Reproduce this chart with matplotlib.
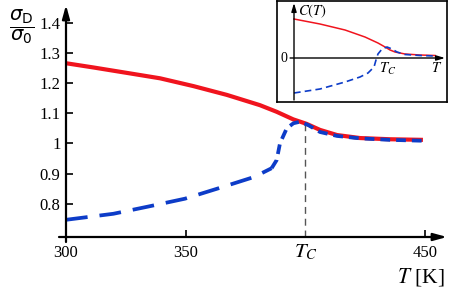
import matplotlib
matplotlib.use("Agg")
import matplotlib.pyplot as plt
import numpy as np

plt.rcParams['font.family'] = ['Liberation Serif', 'DejaVu Serif']
plt.rcParams['mathtext.fontset'] = 'stix'

# main panel: sigma_D / sigma_0 against temperature
T_red = [300, 311.4, 325.4, 339.3, 353.3, 367.2, 381.0, 388.0, 394.9, 400.5,
         406.1, 413.2, 422.8, 435.3, 449.1]
s_red = [1.266, 1.252, 1.234, 1.216, 1.190, 1.161, 1.127, 1.105, 1.080, 1.065,
         1.045, 1.028, 1.018, 1.014, 1.012]

T_blue = [300, 319.8, 334.4, 349.7, 363.9, 378.6, 385.9, 388.0, 389.4, 392.2,
          395.0, 397.7, 401.2, 406.1, 413.2, 422.8, 435.3, 449.1]
s_blue = [0.747, 0.767, 0.791, 0.817, 0.852, 0.889, 0.918, 0.945, 1.001, 1.050,
          1.067, 1.072, 1.061, 1.038, 1.025, 1.017, 1.012, 1.009]

T_c = 400
s_at_Tc = 1.066
xticks = [300, 350, 450]
yticks = [0.8, 0.9, 1.0, 1.1, 1.2, 1.3, 1.4]
ytick_labels = ['0.8', '0.9', '1', '1.1', '1.2', '1.3', '1.4']

# inset: C(T), arbitrary units
u_red = [0, 0.172, 0.338, 0.470, 0.556, 0.603, 0.636, 0.669, 0.735, 0.834, 0.934]
c_red = [0.975, 0.85, 0.70, 0.525, 0.375, 0.275, 0.20, 0.15, 0.10, 0.075, 0.0625]
u_blue = [0, 0.172, 0.338, 0.437, 0.490, 0.530, 0.543, 0.556, 0.583, 0.616, 0.649,
          0.682, 0.735, 0.834, 0.934]
c_blue = [-0.875, -0.775, -0.60, -0.475, -0.375, -0.225, -0.05, 0.10, 0.225, 0.275,
          0.225, 0.15, 0.0875, 0.0625, 0.05]

RED = '#f0141e'
BLUE = '#0d3cc8'

fig = plt.figure(figsize=(4.5, 2.89), dpi=100)
ax = fig.add_axes([66/450, 52/289, 381/450, 232/289])
ax.set_xlim(300, 459.15)
ax.set_ylim(0.690, 1.459)
for s in ax.spines.values():
    s.set_visible(False)

# axes drawn as arrows
ax.annotate('', xy=(1, 0), xytext=(-7/381, 0), xycoords='axes fraction',
            arrowprops=dict(arrowstyle='-|>,head_length=0.8,head_width=0.22',
                            lw=1.6, color='black', shrinkA=0, shrinkB=0))
ax.annotate('', xy=(0, 1), xytext=(0, -5/232), xycoords='axes fraction',
            arrowprops=dict(arrowstyle='-|>,head_length=0.8,head_width=0.22',
                            lw=1.6, color='black', shrinkA=0, shrinkB=0))

ax.plot([T_c, T_c], [0.690, s_at_Tc], color='#555555', lw=1.0, dashes=(5, 3.5))

ax.plot(T_red, s_red, color=RED, lw=3.0, solid_capstyle='butt', solid_joinstyle='round')
T_blue = np.array(T_blue)
s_blue = np.array(s_blue)
lo = T_blue <= 386
hi = T_blue >= 385.9
ax.plot(T_blue[lo], s_blue[lo], color=BLUE, lw=2.7, dashes=(5.8, 3.2))
ax.plot(T_blue[hi], s_blue[hi], color=BLUE, lw=2.7, dashes=(2.6, 1.6))

ax.set_xticks(xticks)
ax.set_xticklabels([str(t) for t in xticks])
ax.set_yticks(yticks)
ax.set_yticklabels(ytick_labels)
ax.tick_params(direction='in', length=5, width=1.2, labelsize=12)
ax.tick_params(axis='x', pad=6)
ax.tick_params(axis='y', pad=4)

ax.text(T_c, 0.690 - 0.020, r'$T_C$', fontsize=15, ha='center', va='top')
fig.text(445/450, 1 - 283/289, r'$T$ [K]', fontsize=15.5, ha='right', va='baseline')
fig.text(22/450, 1 - 27/289, r'$\dfrac{\sigma_\mathrm{D}}{\sigma_0}$', fontsize=14,
         ha='center', va='center', math_fontfamily='dejavusans')

# inset
ins = fig.add_axes([277/450, 1 - 102/289, 170/450, 101/289])
ins.set_xlim(-0.1126, 1.0132)
ins.set_ylim(-1.1, 1.425)
ins.set_xticks([])
ins.set_yticks([])
for s in ins.spines.values():
    s.set_linewidth(1.2)
ins.annotate('', xy=(1, 0), xytext=(-0.026, 0), xycoords='data',
             arrowprops=dict(arrowstyle='-|>,head_length=0.5,head_width=0.15',
                             lw=1.0, color='black', shrinkA=0, shrinkB=0))
ins.annotate('', xy=(0, 1.375), xytext=(0, -1.05), xycoords='data',
             arrowprops=dict(arrowstyle='-|>,head_length=0.5,head_width=0.15',
                             lw=1.0, color='black', shrinkA=0, shrinkB=0))
ins.plot(u_red, c_red, color=RED, lw=1.1)
ins.plot(u_blue, c_blue, color=BLUE, lw=1.2, dashes=(4, 2.5))
ins.text(0.026, 1.38, r'$C(T)$', fontsize=10.5, ha='left', va='top')
ins.text(-0.045, 0, '0', fontsize=10, ha='right', va='center')
ins.text(0.62, -0.08, r'$T_C$', fontsize=10.5, ha='center', va='top')
ins.text(0.947, -0.08, r'$T$', fontsize=10.5, ha='center', va='top')

fig.savefig('out.png', dpi=100)
